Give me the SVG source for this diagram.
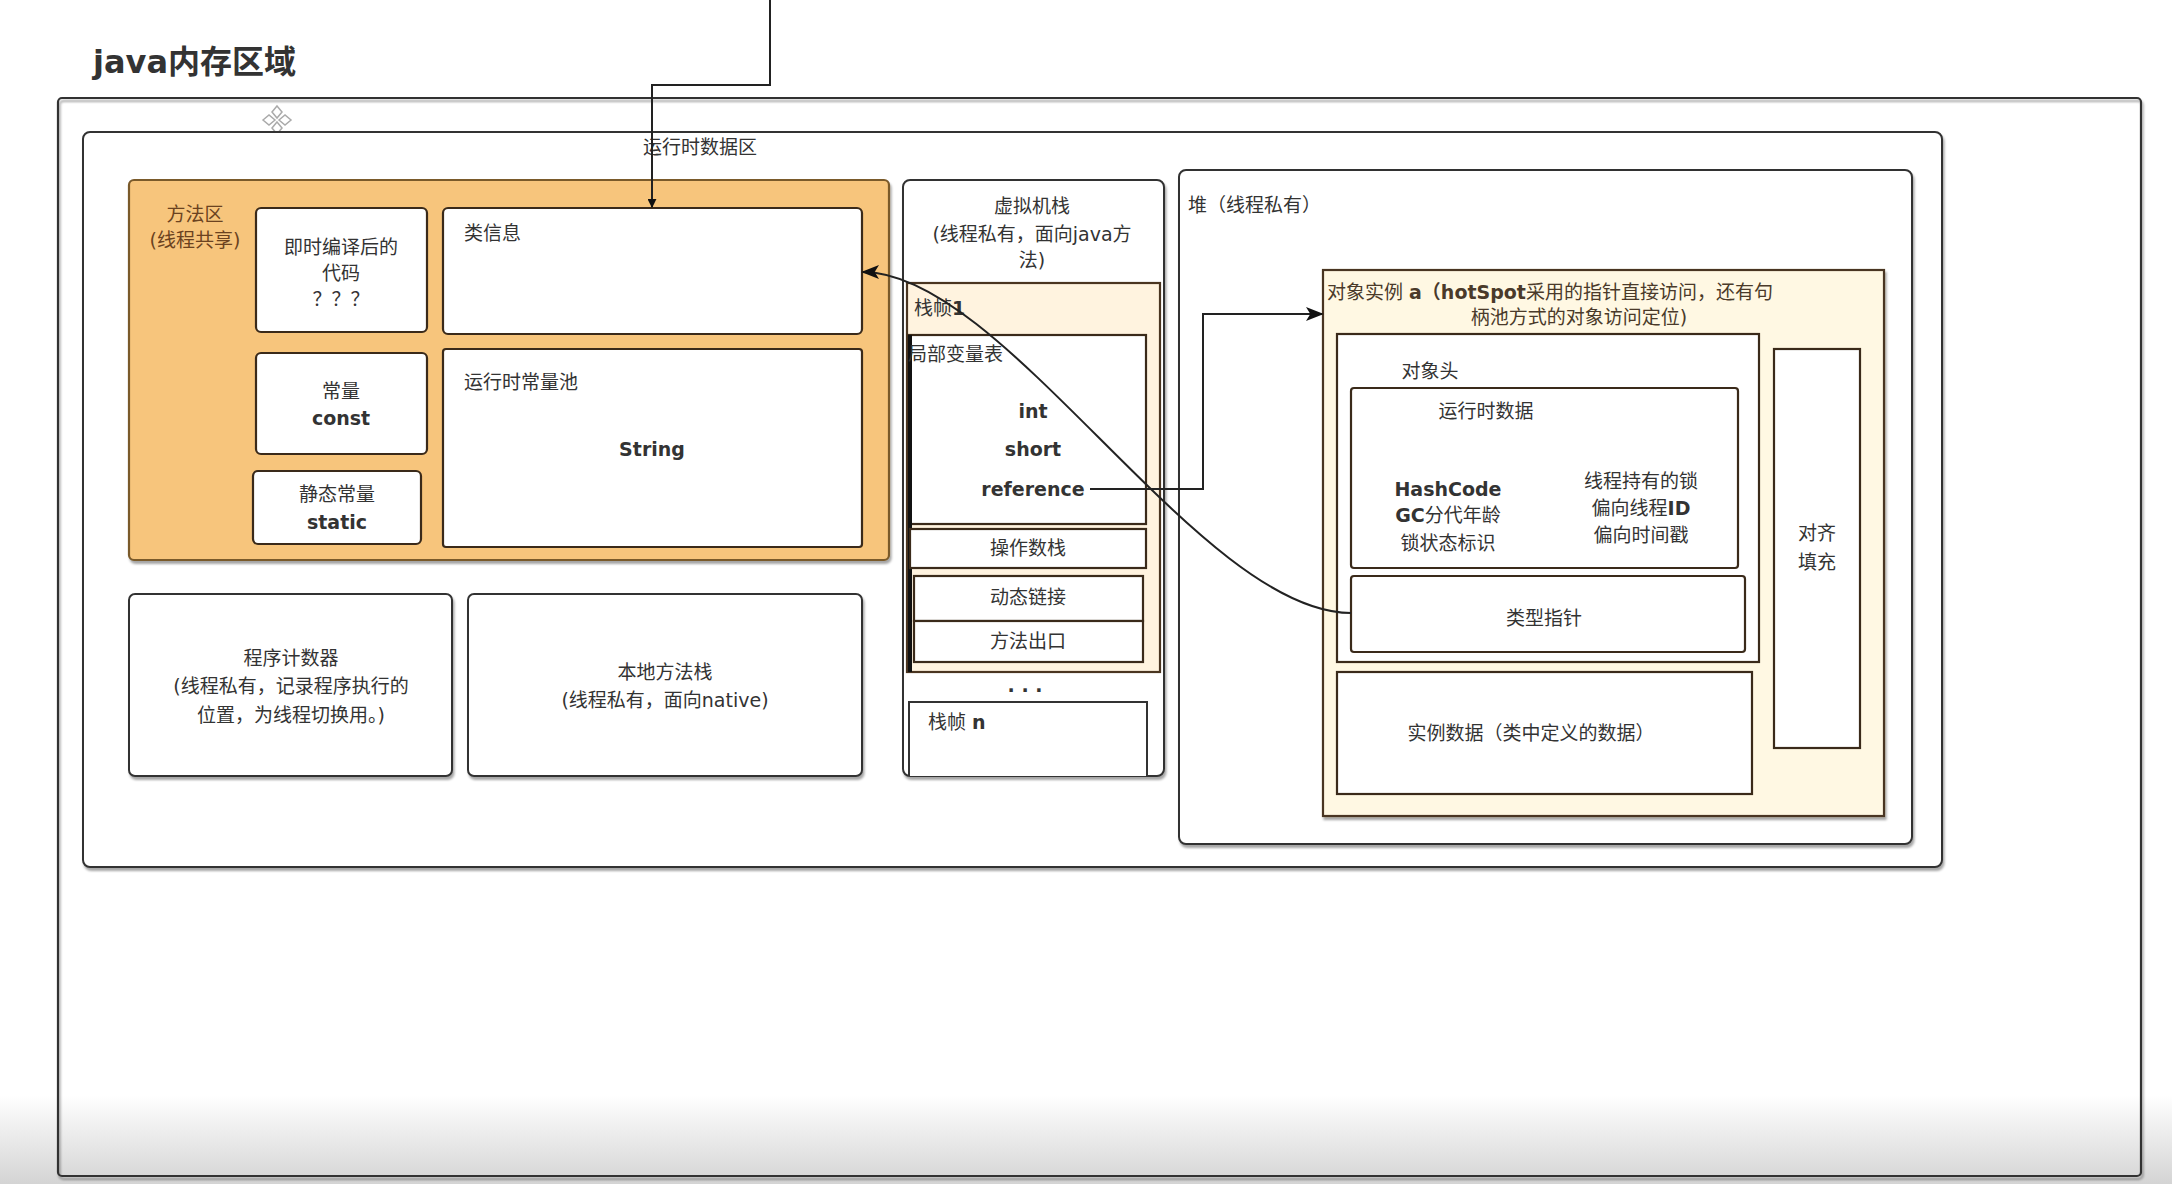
<svg xmlns="http://www.w3.org/2000/svg" width="2172" height="1184" viewBox="0 0 2172 1184">
<defs>
<style>
text{font-family:"DejaVu Sans","Noto Sans CJK SC",sans-serif;fill:#333;font-size:19px;dominant-baseline:central}
.c{text-anchor:middle}
.b{font-weight:bold}
.box{fill:#fff;stroke:#333;stroke-width:2}
.inner{fill:#fff;stroke:#3a2a1a;stroke-width:2.2}
.cream{fill:#fff3df;stroke:#4a3520;stroke-width:2.2}
.cream2{fill:#fff8e3;stroke:#4a3520;stroke-width:2.2}
.orange{fill:#f7c57c;stroke:#7a5a2a;stroke-width:2.2}
.conn{fill:none;stroke:#222;stroke-width:2}
</style>
<filter id="sh" x="-5%" y="-5%" width="110%" height="115%">
<feDropShadow dx="1.5" dy="3" stdDeviation="1.2" flood-color="#000" flood-opacity="0.35"/>
</filter>
<marker id="arr" viewBox="0 0 10 10" refX="9" refY="5" markerWidth="9" markerHeight="9" markerUnits="userSpaceOnUse" orient="auto">
<path d="M0,0 L10,5 L0,10 z" fill="#111"/>
</marker>
<marker id="arrL" viewBox="0 0 10 10" refX="9" refY="5" markerWidth="18" markerHeight="18" markerUnits="userSpaceOnUse" orient="auto">
<path d="M0,1 L10,5 L0,9 L2.5,5 z" fill="#111"/>
</marker>
<linearGradient id="bot" x1="0" y1="0" x2="0" y2="1">
<stop offset="0" stop-color="#ffffff"/>
<stop offset="1" stop-color="#d4d4d4"/>
</linearGradient>
</defs>
<rect width="2172" height="1184" fill="#fff"/>
<rect x="0" y="1095" width="2172" height="89" fill="url(#bot)"/>

<text x="93" y="62" style="font-size:32px;font-weight:bold;fill:#333">java内存区域</text>

<g id="outer"><rect x="58" y="98" width="2083" height="1078" rx="4" fill="none" stroke="#333" stroke-width="2.2" filter="url(#sh)"/></g>

<g id="move-icon" fill="#fff" stroke="#aaa" stroke-width="1.5">
<path d="M277,106 l5,6 l-5,6 l-5,-6 z"/>
<path d="M277,122 l5,6 l-5,6 l-5,-6 z"/>
<path d="M263,120 l6,-5 l6,5 l-6,5 z"/>
<path d="M279,120 l6,-5 l6,5 l-6,5 z"/>
</g>

<g id="runtime-area">
<rect x="83" y="132" width="1859" height="735" rx="7" fill="#fff" stroke="#333" stroke-width="2" filter="url(#sh)"/>
<text class="c" x="700" y="147">运行时数据区</text>
</g>

<g id="method-area">
<rect class="orange" x="129" y="180" width="760" height="380" rx="5" filter="url(#sh)"/>
<text class="c" x="195" y="214" style="fill:#6b4220">方法区</text>
<text class="c" x="195" y="240" style="fill:#6b4220">(线程共享)</text>
</g>
<g id="jit-code">
<rect class="inner" x="256" y="208" width="171" height="124" rx="5"/>
<text class="c" x="341" y="247">即时编译后的</text>
<text class="c" x="341" y="273">代码</text>
<text class="c" x="341" y="299">？？？</text>
</g>
<g id="const">
<rect class="inner" x="256" y="353" width="171" height="101" rx="5"/>
<text class="c" x="341" y="391">常量</text>
<text class="c b" x="341" y="418">const</text>
</g>
<g id="static">
<rect class="inner" x="253" y="471" width="168" height="73" rx="5"/>
<text class="c" x="337" y="494">静态常量</text>
<text class="c b" x="337" y="522">static</text>
</g>
<g id="class-info">
<rect class="inner" x="443" y="208" width="419" height="126" rx="5"/>
<text x="464" y="233">类信息</text>
</g>
<g id="runtime-const-pool">
<rect class="inner" x="443" y="349" width="419" height="198" rx="3"/>
<text x="464" y="382">运行时常量池</text>
<text class="c b" x="652" y="449">String</text>
</g>

<g id="pc">
<rect class="box" x="129" y="594" width="323" height="182" rx="6" filter="url(#sh)"/>
<text class="c" x="291" y="658">程序计数器</text>
<text class="c" x="291" y="686">(线程私有，记录程序执行的</text>
<text class="c" x="291" y="715">位置，为线程切换用。)</text>
</g>
<g id="native-stack">
<rect class="box" x="468" y="594" width="394" height="182" rx="6" filter="url(#sh)"/>
<text class="c" x="665" y="672">本地方法栈</text>
<text class="c" x="665" y="700">(线程私有，面向native)</text>
</g>

<g id="vm-stack">
<rect class="box" x="903" y="180" width="261" height="596" rx="7" filter="url(#sh)"/>
<text class="c" x="1032" y="206">虚拟机栈</text>
<text class="c" x="1032" y="234">(线程私有，面向java方</text>
<text class="c" x="1032" y="260">法)</text>
</g>
<g id="frame1">
<rect class="cream" x="907" y="283" width="253" height="389"/>
<text x="914" y="308">栈帧<tspan class="b">1</tspan></text>
</g>
<g id="local-vars">
<rect class="inner" x="909" y="335" width="237" height="189"/>
<line x1="910" y1="335" x2="910" y2="672" stroke="#111" stroke-width="4"/>
<text x="908" y="354">局部变量表</text>
<text class="c b" x="1033" y="411">int</text>
<text class="c b" x="1033" y="449">short</text>
<text class="c b" x="1033" y="489">reference</text>
</g>
<g id="operand-stack">
<rect class="inner" x="910" y="529" width="236" height="39"/>
<text class="c" x="1028" y="548">操作数栈</text>
</g>
<g id="dynamic-link">
<rect class="inner" x="914" y="576" width="229" height="45"/>
<text class="c" x="1028" y="597">动态链接</text>
</g>
<g id="method-exit">
<rect class="inner" x="914" y="621" width="229" height="41"/>
<text class="c" x="1028" y="641">方法出口</text>
</g>
<g id="dots"><text class="c b" x="1025" y="690">·  ·  ·</text></g>
<g id="frame-n">
<path d="M909,776 V702 H1147 V776" fill="#fff" stroke="#333" stroke-width="2"/>
<text x="928" y="722">栈帧 <tspan class="b">n</tspan></text>
</g>

<g id="heap">
<rect class="box" x="1179" y="170" width="733" height="674" rx="7" filter="url(#sh)"/>
<text x="1188" y="205">堆（线程私有）</text>
</g>
<g id="object-a">
<rect class="cream2" x="1323" y="270" width="561" height="546" filter="url(#sh)"/>
<text x="1327" y="292" style="fill:#4a3a2a">对象实例 <tspan class="b">a（hotSpot</tspan>采用的指针直接访问，还有句</text>
<text class="c" x="1579" y="317" style="fill:#4a3a2a">柄池方式的对象访问定位)</text>
</g>
<g id="object-header">
<rect class="inner" x="1337" y="334" width="422" height="328"/>
<text class="c" x="1430" y="371">对象头</text>
</g>
<g id="runtime-data">
<rect class="inner" x="1351" y="388" width="387" height="180" rx="3"/>
<text class="c" x="1486" y="411">运行时数据</text>
<text class="c b" x="1448" y="489">HashCode</text>
<text class="c" x="1448" y="515"><tspan class="b">GC</tspan>分代年龄</text>
<text class="c" x="1448" y="543">锁状态标识</text>
<text class="c" x="1641" y="481">线程持有的锁</text>
<text class="c" x="1641" y="508">偏向线程<tspan class="b">ID</tspan></text>
<text class="c" x="1641" y="535">偏向时间戳</text>
</g>
<g id="type-pointer">
<rect class="inner" x="1351" y="576" width="394" height="76" rx="3"/>
<text class="c" x="1544" y="618">类型指针</text>
</g>
<g id="instance-data">
<rect class="inner" x="1337" y="672" width="415" height="122"/>
<text class="c" x="1531" y="733">实例数据（类中定义的数据）</text>
</g>
<g id="padding">
<rect class="inner" x="1774" y="349" width="86" height="399"/>
<text class="c" x="1817" y="533">对齐</text>
<text class="c" x="1817" y="562">填充</text>
</g>

<g id="connectors">
<path class="conn" d="M770,0 V85 H652 V207" marker-end="url(#arr)"/>
<path class="conn" d="M1090,489 H1203 V314 H1322" marker-end="url(#arrL)"/>
<path class="conn" d="M1351,613 C1200,613 1005,272 863,272" marker-end="url(#arrL)"/>
</g>
</svg>
